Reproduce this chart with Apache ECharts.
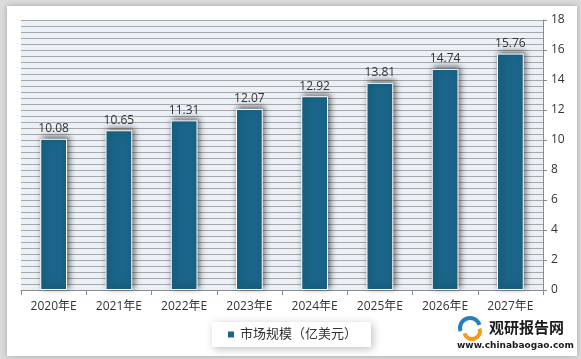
<!DOCTYPE html>
<html><head><meta charset="utf-8">
<script src="https://cdn.jsdelivr.net/npm/echarts@6/dist/echarts.min.js"></script>
<style>html,body{margin:0;padding:0;}#c{width:581px;height:359px;}</style>
</head><body><div id="c"></div>
<script>
var categories = ['2020年E','2021年E','2022年E','2023年E','2024年E','2025年E','2026年E','2027年E'];
var values = [10.08, 10.65, 11.31, 12.07, 12.92, 13.81, 14.74, 15.76];
var seriesName = '市场规模（亿美元）';
var yTicks = [0, 18, 2];

var chart = echarts.init(document.getElementById('c'));
var font = '"Open Sans","Noto Sans CJK SC",sans-serif';
chart.setOption({
  backgroundColor: '#dcdcdc',
  animation: false,
  graphic: [
    {type:'rect', z:-10, shape:{x:7,y:6,width:570,height:350}, style:{fill:'#fff', shadowBlur:6, shadowColor:'rgba(0,0,0,0.25)'}},
    {type:'arc', z:10, shape:{cx:470,cy:328,r:10,startAngle:Math.PI*0.9,endAngle:Math.PI*1.9}, style:{stroke:'#2a7fb8',lineWidth:4,fill:null}},
    {type:'arc', z:10, shape:{cx:472,cy:331,r:8,startAngle:-Math.PI*0.1,endAngle:Math.PI*0.9}, style:{stroke:'#f39a1e',lineWidth:4,fill:null}},
    {type:'text', z:10, left:489, top:320, style:{text:'观研报告网', font:'bold 15px "Noto Sans CJK SC",sans-serif', fill:'#1a1a1a'}},
    {type:'text', z:10, left:457, top:341, style:{text:'www.chinabaogao.com', font:'bold 9px "DejaVu Sans",sans-serif', fill:'#1a1a1a'}}
  ],
  grid: {left:21, right:38, top:20, bottom:69, show:true, backgroundColor:'#eaf1f8', borderWidth:0},
  legend: {
    data:[seriesName], left:212, top:322, icon:'rect', itemWidth:8, itemHeight:8,
    backgroundColor:'#fff', padding:[6,14,6,14], shadowBlur:8, shadowColor:'rgba(0,0,0,0.25)', shadowOffsetX:2, shadowOffsetY:2,
    textStyle:{fontSize:13, color:'#333', fontFamily:font}
  },
  xAxis: {
    type:'category', data:categories,
    axisLine:{lineStyle:{color:'#8c8c8c'}},
    axisTick:{show:true, length:5, lineStyle:{color:'#8c8c8c'}},
    axisLabel:{fontSize:12, color:'#333', margin:11, fontFamily:font}
  },
  yAxis: {
    type:'value', position:'right', min:yTicks[0], max:yTicks[1], interval:yTicks[2],
    axisLine:{show:true, lineStyle:{color:'#8c8c8c'}},
    axisTick:{show:true, length:4, lineStyle:{color:'#8c8c8c'}},
    axisLabel:{fontSize:12, color:'#333', margin:8, fontFamily:font},
    splitLine:{show:true, lineStyle:{color:'#a8a8a8', width:1}},
    minorTick:{show:false, splitNumber:5},
    minorSplitLine:{show:true, lineStyle:{color:'#a8a8a8', width:1}}
  },
  series: [{
    name:seriesName, type:'bar', data:values, barWidth:'41%',
    itemStyle:{color:'#1a6589', borderColor:'#fff', borderWidth:1, shadowBlur:6, shadowColor:'rgba(0,0,0,0.55)', shadowOffsetX:2, shadowOffsetY:-2},
    label:{show:true, position:'top', distance:4, fontSize:12, color:'#333', fontFamily:font}
  }]
});
</script></body></html>
